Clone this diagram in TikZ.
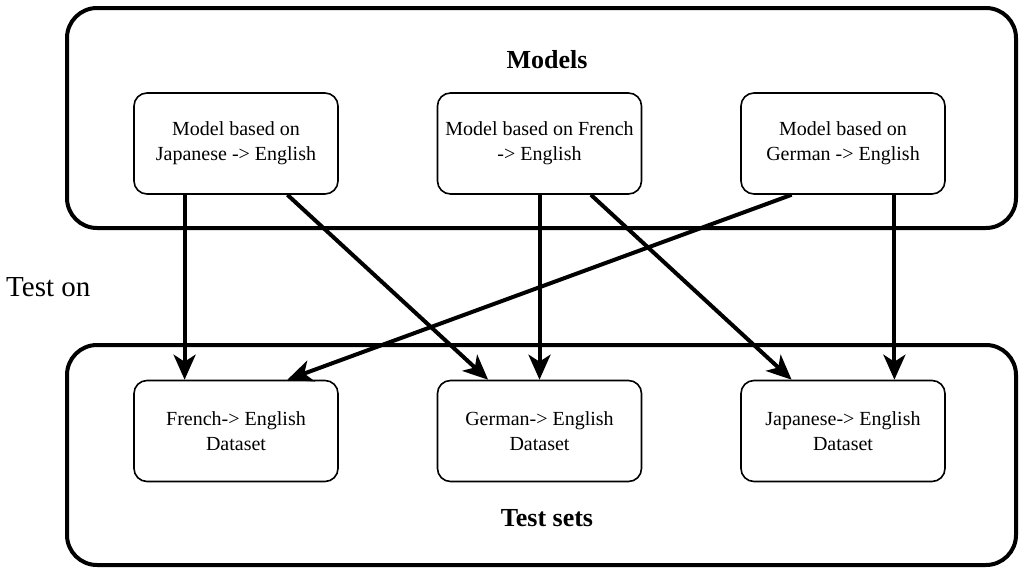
\documentclass[tikz,border=0pt]{standalone}
\usepackage{fontspec}
\setmainfont{Liberation Serif}
\newfontfamily\tnr{Liberation Serif}
\usetikzlibrary{arrows.meta,calc}
\begin{document}
\begin{tikzpicture}[x=1pt,y=-1pt,
  outerbox/.style={draw, line width=4pt, rounded corners=30pt, minimum width=949pt, minimum height=220pt, inner sep=0pt},
  innerbox/.style={draw, fill=white, line width=1.6pt, rounded corners=13pt, minimum width=204pt, minimum height=101pt, align=center, font=\tnr\fontsize{20}{25}\selectfont, inner sep=0pt},
  title/.style={font=\tnr\fontsize{26}{30}\selectfont\bfseries},
  conn/.style={line width=4pt, -{Stealth[length=25pt, width=22pt, inset=7pt]}}
]
\useasboundingbox (0,0) rectangle (1029,571);
\node[outerbox] (top) at (541.5,118) {};
\node[outerbox] (bot) at (541.5,455) {};
\node[title] (models) at (547,60) {Models};
\node[title] (tests) at (547,518) {Test sets};
\node[anchor=base west, font=\tnr\fontsize{29}{34}\selectfont, inner sep=0pt] (teston) at (6,296) {Test on};

\node[innerbox] (m1) at (236,143.5) {Model based on\\Japanese -> English};
\node[innerbox] (m2) at (539.5,143.5) {Model based on French\\-> English};
\node[innerbox] (m3) at (843,143.5) {Model based on\\German -> English};

\node[innerbox] (d1) at (236,431) {French-> English\\Dataset};
\node[innerbox] (d2) at (539.5,431) {German-> English\\Dataset};
\node[innerbox] (d3) at (843,431) {Japanese-> English\\Dataset};

\draw[conn] ($(m1.south west)!0.25!(m1.south east)$) -- ($(d1.north west)!0.25!(d1.north east)$);
\draw[conn] ($(m1.south west)!0.75!(m1.south east)$) -- ($(d2.north west)!0.25!(d2.north east)$);
\draw[conn] (m2.south) -- (d2.north);
\draw[conn] ($(m2.south west)!0.75!(m2.south east)$) -- ($(d3.north west)!0.25!(d3.north east)$);
\draw[conn] ($(m3.south west)!0.25!(m3.south east)$) -- ($(d1.north west)!0.75!(d1.north east)$);
\draw[conn] ($(m3.south west)!0.75!(m3.south east)$) -- ($(d3.north west)!0.75!(d3.north east)$);
\end{tikzpicture}
\end{document}
